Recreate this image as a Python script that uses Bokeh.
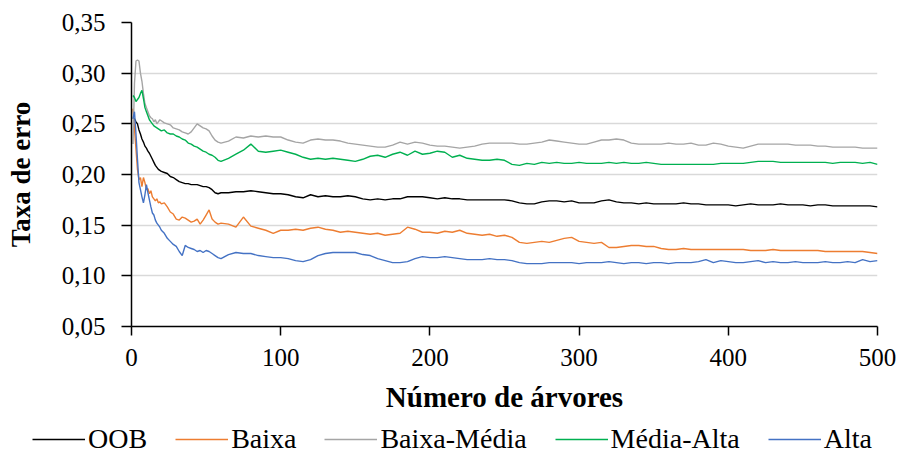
from bokeh.plotting import figure
from bokeh.layouts import column, row
from bokeh.models import Range1d, FixedTicker, Legend, LegendItem
from bokeh.embed import file_html
from bokeh.resources import INLINE

# ---- data ----
arvores = list(range(1, 21)) + list(range(22, 61, 2)) + list(range(65, 501, 5))

oob = [0.256,0.255,0.252,0.250,0.244,0.240,0.235,0.232,0.228,0.226,0.223,0.221,0.218,0.215,0.212,0.209,0.207,0.205,0.204,0.203,
       0.202,0.201,0.198,0.197,0.195,0.193,0.192,0.191,0.191,0.190,0.190,0.190,0.189,0.188,0.188,0.187,0.185,0.182,0.181,0.182,
       0.182,0.183,0.183,0.184,0.183,0.182,0.181,0.181,
       0.180,0.178,0.177,0.180,0.178,0.179,0.178,0.178,0.179,0.178,
       0.176,0.175,0.176,0.175,0.176,0.176,0.178,0.178,0.178,0.177,
       0.176,0.177,0.176,0.176,0.175,0.175,0.175,0.175,0.175,0.175,
       0.174,0.172,0.171,0.171,0.173,0.174,0.174,0.173,0.174,0.172,
       0.172,0.172,0.174,0.175,0.173,0.172,0.172,0.171,0.172,0.171,
       0.171,0.171,0.171,0.172,0.171,0.171,0.170,0.170,0.170,0.170,
       0.169,0.170,0.171,0.170,0.170,0.170,0.171,0.170,0.170,0.170,
       0.169,0.170,0.170,0.169,0.169,0.169,0.169,0.169,0.169,0.168]

baixa = [0.265,0.245,0.225,0.205,0.195,0.197,0.188,0.197,0.192,0.185,0.186,0.181,0.184,0.178,0.176,0.174,0.176,0.172,0.173,0.171,
         0.172,0.168,0.163,0.161,0.156,0.155,0.158,0.157,0.155,0.153,0.154,0.156,0.151,0.155,0.160,0.165,0.156,0.153,0.151,0.152,
         0.151,0.148,0.158,0.149,0.147,0.145,0.142,0.145,
         0.145,0.146,0.145,0.147,0.148,0.146,0.145,0.143,0.144,0.143,
         0.142,0.141,0.142,0.140,0.141,0.142,0.148,0.146,0.143,0.143,
         0.142,0.144,0.143,0.145,0.142,0.141,0.140,0.141,0.139,0.140,
         0.138,0.133,0.132,0.133,0.134,0.133,0.135,0.137,0.138,0.134,
         0.133,0.132,0.133,0.128,0.128,0.129,0.130,0.130,0.129,0.129,
         0.127,0.126,0.126,0.127,0.126,0.126,0.126,0.126,0.126,0.126,
         0.126,0.126,0.125,0.125,0.125,0.126,0.125,0.125,0.125,0.125,
         0.125,0.125,0.124,0.124,0.124,0.124,0.124,0.124,0.123,0.122]

baixa_media = [0.230,0.290,0.312,0.313,0.312,0.300,0.292,0.280,0.270,0.266,0.262,0.258,0.256,0.255,0.252,0.254,0.250,0.252,0.254,0.253,
               0.251,0.250,0.249,0.246,0.245,0.244,0.242,0.241,0.240,0.242,0.246,0.250,0.248,0.246,0.245,0.243,0.238,0.234,0.232,0.231,
               0.233,0.237,0.236,0.238,0.237,0.238,0.237,0.237,
               0.234,0.232,0.231,0.234,0.235,0.234,0.234,0.233,0.231,0.230,
               0.229,0.228,0.227,0.227,0.229,0.232,0.230,0.232,0.231,0.229,
               0.228,0.228,0.227,0.226,0.227,0.228,0.230,0.231,0.231,0.231,
               0.231,0.230,0.230,0.231,0.232,0.234,0.233,0.232,0.231,0.230,
               0.230,0.232,0.234,0.234,0.235,0.234,0.231,0.230,0.230,0.230,
               0.230,0.231,0.230,0.230,0.231,0.229,0.229,0.231,0.230,0.228,
               0.227,0.226,0.228,0.230,0.230,0.230,0.230,0.230,0.229,0.229,
               0.229,0.228,0.228,0.227,0.227,0.227,0.227,0.226,0.226,0.226]

media_alta = [0.278,0.276,0.272,0.274,0.276,0.280,0.283,0.275,0.266,0.262,0.258,0.254,0.252,0.250,0.248,0.247,0.246,0.245,0.244,0.243,
              0.244,0.241,0.240,0.240,0.238,0.237,0.235,0.234,0.231,0.230,0.228,0.227,0.225,0.223,0.222,0.220,0.219,0.217,0.214,0.213,
              0.216,0.220,0.224,0.230,0.223,0.222,0.223,0.224,
              0.222,0.220,0.217,0.215,0.216,0.215,0.216,0.215,0.214,0.213,
              0.215,0.218,0.219,0.217,0.220,0.222,0.219,0.223,0.220,0.221,
              0.223,0.222,0.217,0.219,0.216,0.215,0.214,0.214,0.215,0.214,
              0.210,0.209,0.211,0.210,0.212,0.211,0.212,0.211,0.211,0.212,
              0.211,0.211,0.211,0.212,0.211,0.212,0.211,0.211,0.212,0.211,
              0.210,0.210,0.210,0.210,0.210,0.210,0.210,0.210,0.211,0.211,
              0.211,0.211,0.212,0.213,0.213,0.213,0.212,0.212,0.212,0.212,
              0.212,0.212,0.212,0.211,0.212,0.212,0.212,0.211,0.212,0.210]

alta = [0.255,0.262,0.240,0.215,0.192,0.185,0.178,0.172,0.180,0.190,0.182,0.175,0.168,0.162,0.160,0.155,0.152,0.150,0.148,0.145,
        0.142,0.137,0.134,0.131,0.129,0.124,0.120,0.130,0.128,0.127,0.126,0.124,0.125,0.123,0.125,0.124,0.122,0.120,0.118,0.117,
        0.121,0.123,0.122,0.122,0.120,0.119,0.118,0.118,
        0.117,0.115,0.114,0.116,0.120,0.122,0.123,0.123,0.123,0.123,
        0.121,0.120,0.117,0.115,0.113,0.113,0.114,0.117,0.119,0.118,
        0.118,0.119,0.118,0.117,0.116,0.116,0.116,0.117,0.116,0.116,
        0.115,0.113,0.112,0.112,0.112,0.113,0.113,0.113,0.113,0.112,
        0.113,0.113,0.113,0.114,0.113,0.112,0.113,0.113,0.112,0.113,
        0.113,0.112,0.113,0.113,0.113,0.114,0.116,0.113,0.115,0.114,
        0.113,0.113,0.114,0.115,0.113,0.114,0.113,0.113,0.114,0.113,
        0.113,0.113,0.114,0.113,0.113,0.114,0.113,0.116,0.114,0.115]

series_names = ["OOB", "Baixa", "Baixa-Média", "Média-Alta", "Alta"]
series_values = [oob, baixa, baixa_media, media_alta, alta]
series_colors = ["#000000", "#ED7D31", "#A5A5A5", "#00B050", "#4472C4"]

y_ticks = [0.05, 0.10, 0.15, 0.20, 0.25, 0.30, 0.35]
y_tick_labels = ["0,05", "0,10", "0,15", "0,20", "0,25", "0,30", "0,35"]
x_ticks = [0, 100, 200, 300, 400, 500]

FONT = "Liberation Serif"

p = figure(width=904, height=415, output_backend="svg", toolbar_location=None,
           x_range=Range1d(0, 500), y_range=Range1d(0.05, 0.35),
           min_border_left=131, min_border_right=27, min_border_top=22, min_border_bottom=89)
p.outline_line_color = None
p.background_fill_color = "white"
p.border_fill_color = "white"

for vals, col in zip(series_values, series_colors):
    p.line(arvores, vals, line_color=col, line_width=1.4)

# axes
p.xaxis.ticker = FixedTicker(ticks=x_ticks)
p.yaxis.ticker = FixedTicker(ticks=y_ticks)
p.yaxis.major_label_overrides = {t: l for t, l in zip(y_ticks, y_tick_labels)}
for ax in (p.xaxis, p.yaxis):
    ax.axis_line_color = "black"
    ax.axis_line_width = 1.5
    ax.major_tick_line_color = "black"
    ax.major_tick_line_width = 1.5
    ax.major_tick_in = 0
    ax.minor_tick_line_color = None
    ax.major_label_text_font = FONT
    ax.major_label_text_font_size = "25px"
    ax.major_label_text_color = "black"
    ax.axis_label_text_font = FONT
    ax.axis_label_text_font_style = "bold"
    ax.axis_label_text_color = "black"
p.yaxis.major_tick_out = 10
p.xaxis.major_tick_out = 9
p.yaxis.major_label_standoff = 16
p.xaxis.major_label_standoff = 13
p.xaxis.axis_label = "Número de árvores"
p.yaxis.axis_label = "Taxa de erro"
p.xaxis.axis_label_text_font_size = "29px"
p.yaxis.axis_label_text_font_size = "27px"
p.xaxis.axis_label_standoff = 12
p.yaxis.axis_label_standoff = 23

p.xgrid.grid_line_color = None
p.ygrid.grid_line_color = "#D9D9D9"
p.ygrid.grid_line_width = 1.5

# ---- legend strip below the chart (series drawn out of view, legend only) ----
pl = figure(width=904, height=40, output_backend="svg", toolbar_location=None,
            x_range=Range1d(-3, -2), y_range=Range1d(0, 1),
            x_axis_location=None, y_axis_location=None,
            min_border=0, min_border_left=0, min_border_right=0, min_border_top=0, min_border_bottom=0)
pl.outline_line_color = None
pl.xgrid.visible = False
pl.ygrid.visible = False
leg_renderers = [pl.line(arvores, vals, line_color=c, line_width=1.6)
                 for vals, c in zip(series_values, series_colors)]
legend = Legend(items=[LegendItem(label=n, renderers=[r]) for n, r in zip(series_names, leg_renderers)],
                location=(32, 0), orientation="horizontal",
                label_text_font=FONT, label_text_font_size="28px", label_text_color="black",
                glyph_width=53, glyph_height=20, label_standoff=3,
                padding=0, margin=0, spacing=28,
                border_line_alpha=0, background_fill_alpha=0)
pl.add_layout(legend, "center")

open("out.html", "w").write(file_html(column(p, row(pl, spacing=0), spacing=0), INLINE))
